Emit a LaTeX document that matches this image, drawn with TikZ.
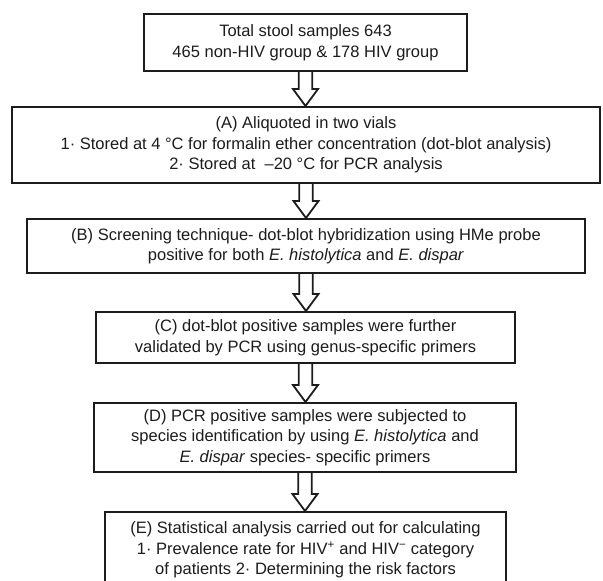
\documentclass[tikz,border=0pt]{standalone}
\usepackage{fontspec}
\setmainfont{Liberation Sans}
\usetikzlibrary{calc}
\definecolor{ink}{HTML}{1C1C1C}
\tikzset{
  stepbox/.style={draw=ink, line width=2.6pt, fill=white, inner sep=0pt, outer sep=0pt,
    align=center, text=ink, font=\fontsize{16.5}{20.5}\selectfont},
  arrowline/.style={draw=ink, line width=1.8pt, line join=miter}
}
\newcommand{\blkarrow}[2]{%
  \draw[arrowline] let \p1=(#1.south), \p2=(#2.north) in
    (\x1-6.7pt,\y1) -- (\x1-6.7pt,\y2+18pt) -- (\x1-12.5pt,\y2+18pt) -- (\x1,\y2+1pt)
    -- (\x1+12.5pt,\y2+18pt) -- (\x1+6.7pt,\y2+18pt) -- (\x1+6.7pt,\y1);}
\begin{document}
\begin{tikzpicture}[x=1pt,y=-1pt]
\useasboundingbox (0,0) rectangle (603,581);
\clip (0,0) rectangle (603,581);
\fill[white] (0,0) rectangle (603,581);
\node[stepbox, minimum width=323pt, minimum height=57pt] (b1) at (305.5,42.5)
  {Total stool samples 643\\465 non-HIV group \& 178 HIV group};
\node[stepbox, minimum width=588pt, minimum height=76pt] (bA) at (306,145)
  {(A) Aliquoted in two vials\\1· Stored at 4 °C for formalin ether concentration (dot-blot analysis)\\2· Stored at \ –20 °C for PCR analysis};
\node[stepbox, minimum width=558pt, minimum height=54pt] (bB) at (306,246)
  {(B) Screening technique- dot-blot hybridization using HMe probe\\positive for both \textit{E. histolytica} and \textit{E. dispar}};
\node[stepbox, minimum width=419pt, minimum height=51pt] (bC) at (305.5,337.5)
  {(C) dot-blot positive samples were further\\validated by PCR using genus-specific primers};
\node[stepbox, minimum width=422pt, minimum height=69pt] (bD) at (305,437.5)
  {(D) PCR positive samples were subjected to\\species identification by using \textit{E. histolytica} and\\\textit{E. dispar} species- specific primers};
\node[stepbox, minimum width=401pt, minimum height=76pt] (bE) at (305.5,550)
  {(E) Statistical analysis carried out for calculating\\1· Prevalence rate for HIV\textsuperscript{+} and HIV\textsuperscript{−} category\\of patients 2· Determining the risk factors};
\blkarrow{b1}{bA}
\blkarrow{bA}{bB}
\blkarrow{bB}{bC}
\blkarrow{bC}{bD}
\blkarrow{bD}{bE}
\end{tikzpicture}
\end{document}
